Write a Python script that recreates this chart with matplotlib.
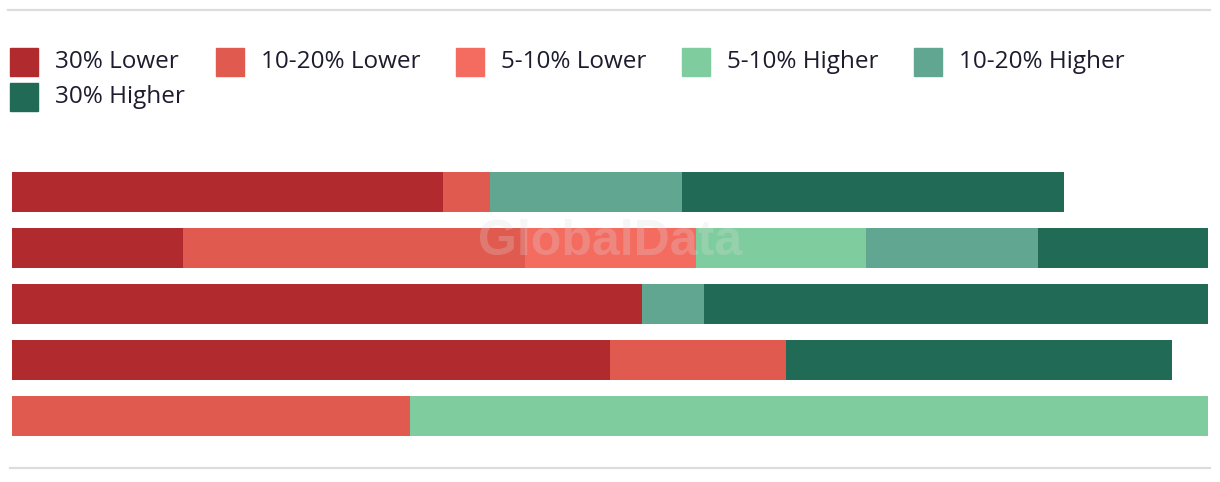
import matplotlib.pyplot as plt
from matplotlib.patches import Rectangle
from matplotlib.lines import Line2D
import numpy as np

# data: share of each band per row (percent of full bar width)
rows = ['A', 'B', 'C', 'D', 'E']
series = ['30% Lower', '10-20% Lower', '5-10% Lower', '5-10% Higher', '10-20% Higher', '30% Higher']
values = {
    '30% Lower':     [36.0, 14.3, 52.7, 50.0, 0.0],
    '10-20% Lower':  [4.0, 28.6, 0.0, 14.7, 33.3],
    '5-10% Lower':   [0.0, 14.3, 0.0, 0.0, 0.0],
    '5-10% Higher':  [0.0, 14.2, 0.0, 0.0, 66.7],
    '10-20% Higher': [16.0, 14.4, 5.2, 0.0, 0.0],
    '30% Higher':    [32.0, 14.2, 42.1, 32.3, 0.0],
}
colors = ['#b02a2e', '#e05a4f', '#f46b60', '#7fcd9e', '#60a690', '#216a56']

W, H = 1220, 482
fig = plt.figure(figsize=(W / 100, H / 100), dpi=100)
ax = fig.add_axes([12 / W, (H - 436) / H, 1196 / W, 264 / H])

y = np.arange(len(rows))
left = np.zeros(len(rows))
for name, c in zip(series, colors):
    v = np.array(values[name])
    ax.barh(y, v, left=left, height=40 / 56, color=c, linewidth=0)
    left += v

ax.set_xlim(0, 100)
ax.set_ylim(len(rows) - 1 + 20 / 56, -20 / 56)
ax.axis('off')

# watermark
ax.text(50, 0.9, 'GlobalData', ha='center', va='center', fontsize=36,
        fontweight='bold', family='Liberation Sans', color='#dddddd', alpha=0.25,
        zorder=5)

# legend drawn by hand, 5 on first row then wrap
txt_color = '#1c1c2e'
leg_x = [10, 216, 456, 682, 914, 10]
leg_y = [62, 62, 62, 62, 62, 97]
for name, c, lx, ly in zip(series, colors, leg_x, leg_y):
    fig.patches.append(Rectangle((lx / W, (H - ly - 14) / H), 28 / W, 28 / H,
                                 transform=fig.transFigure, color=c))
    fig.text((lx + 45) / W, (H - ly) / H, name, fontsize=17.5, family='Open Sans',
             color=txt_color, va='center', ha='left')

# gray rules top and bottom
for yy, x0, x1 in [(10, 8, 1210), (468, 10, 1210)]:
    fig.lines.append(Line2D([x0 / W, x1 / W], [(H - yy) / H] * 2,
                            transform=fig.transFigure, color='#dcdcdc', lw=1.6))

fig.savefig('out.png', dpi=100)
